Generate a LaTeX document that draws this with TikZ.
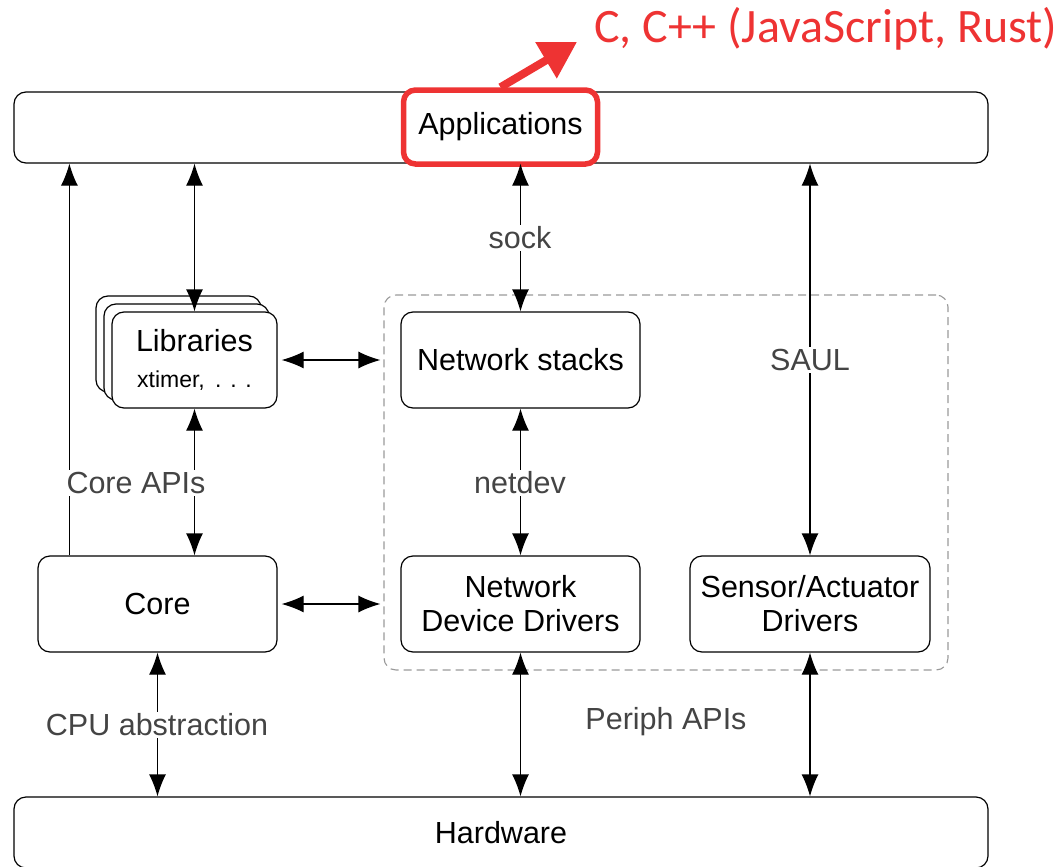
\documentclass[tikz,border=0pt]{standalone}
\usepackage{fontspec}
\setmainfont{Liberation Sans}
\newfontfamily\calfont{Carlito}
\usetikzlibrary{arrows.meta,calc}
\definecolor{hlred}{HTML}{EE3333}
\definecolor{lblgray}{HTML}{444444}
\definecolor{dashgray}{HTML}{999999}

\begin{document}
\begin{tikzpicture}[x=1pt,y=-1pt,
  mainfont/.style={font=\fontsize{30.5}{34}\selectfont},
  box/.style={draw, line width=1.2pt, rounded corners=12pt, fill=white,
    minimum width=#1, minimum height=96pt, inner sep=0pt, align=center, mainfont},
  bar/.style={draw, line width=1.2pt, rounded corners=12pt,
    minimum width=974pt, minimum height=#1, inner sep=0pt, mainfont},
  lbl/.style={text=lblgray, fill=white, inner sep=2pt, mainfont},
  tip/.style={-{Latex[length=22pt,width=17pt]}},
  dbl/.style={{Latex[length=22pt,width=17pt]}-{Latex[length=22pt,width=17pt]}},
  conn/.style={line width=1.2pt},
]
\useasboundingbox (0,0) rectangle (1060,867);

% layers of the system
\node[bar=71pt] (app) at (501,127.5) {};
\node[bar=71pt] (hw) at (501,832.5) {Hardware};

% dashed frame around stacks and drivers
\node[draw=dashgray, line width=1.1pt, dash pattern=on 8pt off 5pt,
  rounded corners=12pt, minimum width=564pt, minimum height=375pt,
  inner sep=0pt] (drv) at (666,482.5) {};

% stacked library boxes
\node[box=165pt] (lib3) at (178.5,344) {};
\node[box=165pt] (lib2) at (186.5,352) {};
\node[box=165pt] (lib) at (194.5,360) {Libraries\\[2pt]{\fontsize{23}{26}\selectfont xtimer,\hspace{0.45em}.\hspace{0.38em}.\hspace{0.38em}.}};

\node[box=239pt] (core) at (157.5,604) {Core};
\node[box=239pt] (net) at (520.5,360) {Network stacks};
\node[box=239pt] (ndd) at (520.5,604) {Network\\Device Drivers};
\node[box=240pt] (sad) at (810,604) {Sensor/Actuator\\Drivers};

% highlighted application layer
\node[draw=hlred, line width=5.5pt, rounded corners=12pt, minimum width=194pt,
  minimum height=74pt, inner sep=0pt, mainfont] (redbox) at (500.5,127) {Applications};
\coordinate (redtip) at (577,42);
\draw[hlred, line width=8pt, -{Triangle[length=36pt,width=40pt]}] (redbox.north) -- (redtip);
\node[text=hlred, font=\calfont\fontsize{48}{54}\selectfont, inner sep=0pt] (langs) at (826,29) {C, C++ (JavaScript, Rust)};

% connectors
\coordinate (coreup) at ([xshift=32pt]core.north west);
\draw[conn, tip] (coreup) -- (app.south -| coreup);
\draw[conn, dbl] (app.south -| lib.north) -- (lib.north);
\draw[conn, dbl] (lib.south) -- (core.north -| lib.south);
\draw[conn, dbl] (app.south -| net.north) -- (net.north);
\draw[conn, dbl] (net.south) -- (ndd.north);
\draw[conn, dbl] (app.south -| sad.north) -- (sad.north);
\draw[conn, dbl, shorten <=4pt, shorten >=3pt] (lib.east) -- (drv.west |- lib.east);
\draw[conn, dbl, shorten <=4pt, shorten >=3pt] (core.east) -- (drv.west |- core.east);
\draw[conn, dbl] (core.south) -- (hw.north -| core.south);
\draw[conn, dbl] (ndd.south) -- (hw.north -| ndd.south);
\draw[conn, dbl] (sad.south) -- (hw.north -| sad.south);

% interface labels
\node[lbl] (sock) at (520,238) {sock};
\node[lbl] (saul) at (810,360) {SAUL};
\node[lbl] (netdev) at (520,483) {netdev};
\node[lbl] (coreapi) at (136,483) {Core APIs};
\node[lbl] (cpu) at (157,725) {CPU abstraction};
\node[lbl] (periph) at (666,722) {Periph APIs};
\end{tikzpicture}
\end{document}
